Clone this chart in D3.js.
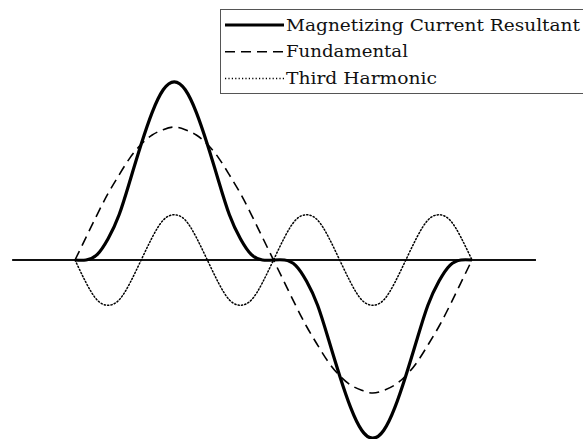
<!DOCTYPE html>
<html>
<head>
<meta charset="utf-8">
<script src="https://cdn.jsdelivr.net/npm/d3@7"></script>
<style>
  html, body { margin: 0; padding: 0; background: #fff; }
  svg { display: block; }
  text { font-family: "DejaVu Serif", "Liberation Serif", serif; fill: #111; }
</style>
</head>
<body>
<svg id="chart" width="583" height="439"></svg>
<script>
// Electrical angle (degrees) over one cycle of the supply
const angle = [0,10,20,30,40,50,60,70,80,90,100,110,120,130,140,150,160,170,180,
               190,200,210,220,230,240,250,260,270,280,290,300,310,320,330,340,350,360];

// Fundamental component (per unit of its peak)
const fundamental = [0,0.17,0.34,0.50,0.64,0.77,0.87,0.94,0.98,1.00,0.98,0.94,0.87,0.77,0.64,0.50,0.34,0.17,0,
                     -0.17,-0.34,-0.50,-0.64,-0.77,-0.87,-0.94,-0.98,-1.00,-0.98,-0.94,-0.87,-0.77,-0.64,-0.50,-0.34,-0.17,0];

// Third harmonic component
const thirdHarmonic = [0,-0.17,-0.30,-0.34,-0.30,-0.17,0,0.17,0.30,0.34,0.30,0.17,0,-0.17,-0.30,-0.34,-0.30,-0.17,0,
                       0.17,0.30,0.34,0.30,0.17,0,-0.17,-0.30,-0.34,-0.30,-0.17,0,0.17,0.30,0.34,0.30,0.17,0];

// Peaky magnetizing current (fundamental + third harmonic)
const resultant = [0,0,0.04,0.16,0.34,0.60,0.87,1.11,1.28,1.34,1.28,1.11,0.87,0.60,0.34,0.16,0.04,0,0,
                   0,-0.04,-0.16,-0.34,-0.60,-0.87,-1.11,-1.28,-1.34,-1.28,-1.11,-0.87,-0.60,-0.34,-0.16,-0.04,0,0];

const legendLabels = ["Magnetizing Current Resultant", "Fundamental", "Third Harmonic"];
const legendTextWidths = [294, 122, 151];

const svg = d3.select("#chart");

const x = d3.scaleLinear().domain([0, 360]).range([75, 472]);
const y = d3.scaleLinear().domain([-1.5, 1.5]).range([459.5, 60.5]);

// Horizontal zero line, extending past the cycle on both sides
const baseSpan = [-57, 418];
svg.append("line")
  .attr("x1", x(baseSpan[0])).attr("x2", x(baseSpan[1]))
  .attr("y1", y(0)).attr("y2", y(0))
  .attr("stroke", "#111").attr("stroke-width", 1.8);

const series = [
  { name: legendLabels[0], values: resultant,     width: 3.2, dash: null },
  { name: legendLabels[1], values: fundamental,   width: 1.6, dash: "10,6" },
  { name: legendLabels[2], values: thirdHarmonic, width: 1.5, dash: "1.2,2.2" }
];

const line = d3.line()
  .x((d, i) => x(angle[i]))
  .y(d => y(d))
  .curve(d3.curveNatural);

// Draw the thin components first so the resultant sits on top
[series[2], series[1], series[0]].forEach(s => {
  svg.append("path")
    .datum(s.values)
    .attr("d", line)
    .attr("fill", "none")
    .attr("stroke", "#000")
    .attr("stroke-width", s.width)
    .attr("stroke-dasharray", s.dash)
    .attr("stroke-linecap", s.dash && s.width < 1.55 ? "round" : "butt");
});

// Legend box (runs off the right edge)
const legend = svg.append("g");
legend.append("rect")
  .attr("x", 220.5).attr("y", 9.5)
  .attr("width", 400).attr("height", 84)
  .attr("fill", "#fff")
  .attr("stroke", "#555").attr("stroke-width", 1);

series.forEach((s, i) => {
  const ly = 25 + i * 26.7;
  legend.append("line")
    .attr("x1", 225).attr("x2", 284)
    .attr("y1", ly).attr("y2", ly)
    .attr("stroke", "#000")
    .attr("stroke-width", s.width)
    .attr("stroke-dasharray", s.dash);
  legend.append("text")
    .attr("x", 286).attr("y", ly + 5.5)
    .attr("font-size", 17.5)
    .attr("textLength", legendTextWidths[i])
    .attr("lengthAdjust", "spacingAndGlyphs")
    .text(s.name);
});
</script>
</body>
</html>
